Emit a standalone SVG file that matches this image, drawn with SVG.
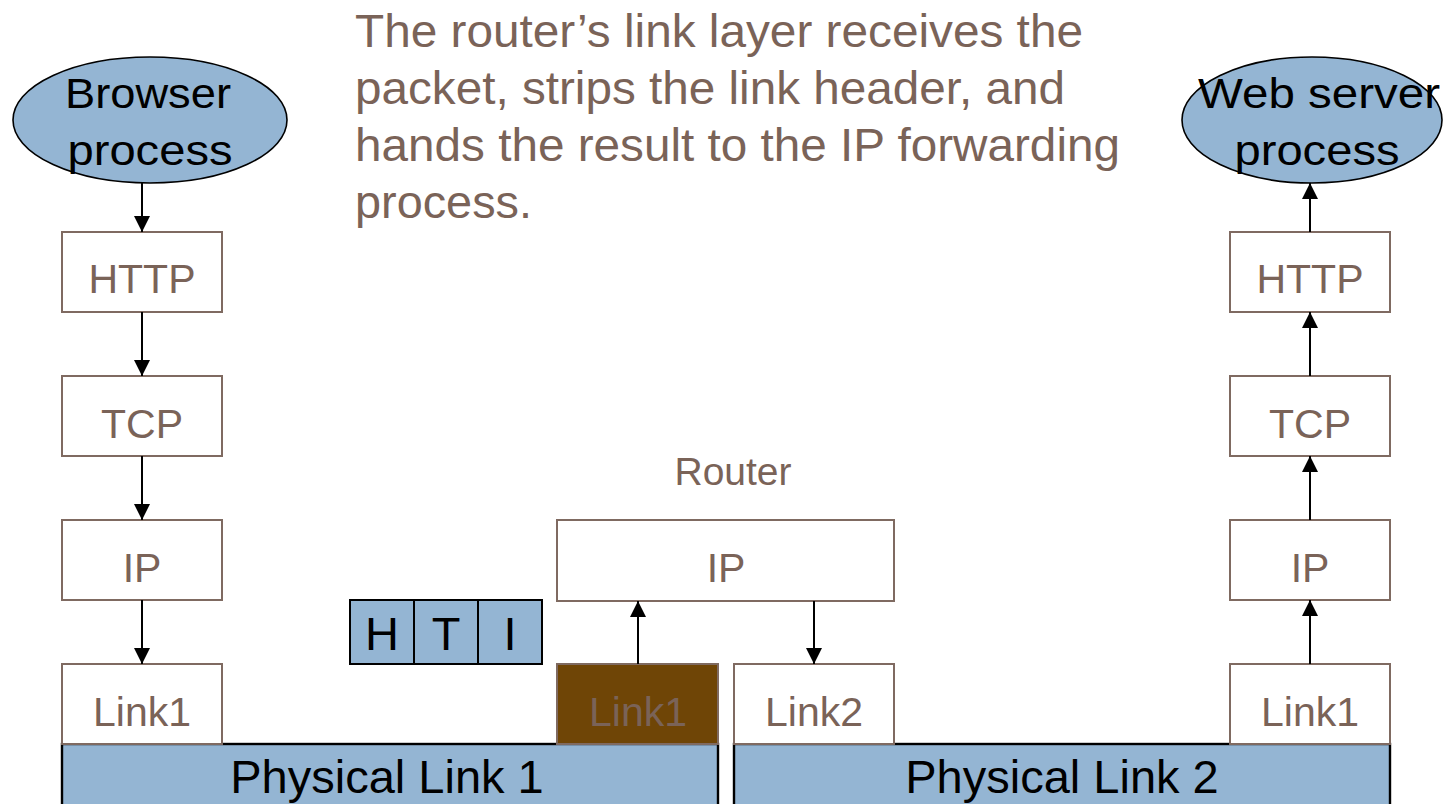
<svg xmlns="http://www.w3.org/2000/svg" width="1448" height="804" viewBox="0 0 1448 804">
<style>
.box{fill:#ffffff;stroke:#7f6a61;stroke-width:2}
.lbl{font-family:"Liberation Sans",Arial,sans-serif;font-size:41px;fill:#7a6358;text-anchor:middle}
.proc{fill:#94b5d3;stroke:#000;stroke-width:1.6}
.ptxt{font-family:"Liberation Sans",Arial,sans-serif;font-size:42px;fill:#000;text-anchor:middle}
.phys{fill:#94b5d3;stroke:#000;stroke-width:2.4}
.para{font-family:"Liberation Sans",Arial,sans-serif;font-size:46px;fill:#7a6358}
.cell{fill:#94b5d3;stroke:#000;stroke-width:2}
.conn{stroke:#000;stroke-width:2;fill:none;marker-end:url(#ah)}
</style>
<defs>
<marker id="ah" markerUnits="userSpaceOnUse" markerWidth="16" markerHeight="16" viewBox="0 0 16 16" refX="16" refY="8" orient="auto">
<path d="M0,0 L16,8 L0,16 Z" fill="#000"/>
</marker>
</defs>
<rect width="1448" height="804" fill="#fff"/>

<g id="caption">
<text class="para" x="355" y="47" textLength="728" lengthAdjust="spacingAndGlyphs">The router’s link layer receives the</text>
<text class="para" x="355" y="104" textLength="710" lengthAdjust="spacingAndGlyphs">packet, strips the link header, and</text>
<text class="para" x="355" y="161" textLength="765" lengthAdjust="spacingAndGlyphs">hands the result to the IP forwarding</text>
<text class="para" x="355" y="218" textLength="177" lengthAdjust="spacingAndGlyphs">process.</text>
</g>

<g id="phys1"><rect class="phys" x="62" y="744" width="656" height="64"/><text class="ptxt" x="387" y="793" style="font-size:47px">Physical Link 1</text></g>
<g id="phys2"><rect class="phys" x="734" y="744" width="656" height="64"/><text class="ptxt" x="1062" y="793" style="font-size:47px">Physical Link 2</text></g>

<g id="browser"><ellipse class="proc" cx="150" cy="120" rx="137" ry="63"/>
<text class="ptxt" x="148" y="108" textLength="166" lengthAdjust="spacingAndGlyphs">Browser</text>
<text class="ptxt" x="150" y="165" textLength="165" lengthAdjust="spacingAndGlyphs">process</text></g>

<g id="server"><ellipse class="proc" cx="1312" cy="120" rx="130" ry="63"/>
<text class="ptxt" x="1319" y="108" textLength="242" lengthAdjust="spacingAndGlyphs">Web server</text>
<text class="ptxt" x="1317" y="165" textLength="165" lengthAdjust="spacingAndGlyphs">process</text></g>

<g id="l-http"><rect class="box" x="62" y="232" width="160" height="80"/><text class="lbl" x="142" y="293">HTTP</text></g>
<g id="l-tcp"><rect class="box" x="62" y="376" width="160" height="80"/><text class="lbl" x="142" y="438">TCP</text></g>
<g id="l-ip"><rect class="box" x="62" y="520" width="160" height="80"/><text class="lbl" x="142" y="582">IP</text></g>
<g id="l-link1"><rect class="box" x="62" y="664" width="160" height="80"/><text class="lbl" x="142" y="726">Link1</text></g>

<g id="r-http"><rect class="box" x="1230" y="232" width="160" height="80"/><text class="lbl" x="1310" y="293">HTTP</text></g>
<g id="r-tcp"><rect class="box" x="1230" y="376" width="160" height="80"/><text class="lbl" x="1310" y="438">TCP</text></g>
<g id="r-ip"><rect class="box" x="1230" y="520" width="160" height="80"/><text class="lbl" x="1310" y="582">IP</text></g>
<g id="r-link1"><rect class="box" x="1230" y="664" width="160" height="80"/><text class="lbl" x="1310" y="726">Link1</text></g>

<g id="router-label"><text class="lbl" x="733" y="485" style="font-size:39px">Router</text></g>
<g id="router-ip"><rect class="box" x="557" y="520" width="337" height="81"/><text class="lbl" x="726" y="582">IP</text></g>
<g id="router-link1"><rect class="box" x="557" y="664" width="161" height="80" style="fill:#6f4506"/><text class="lbl" x="638" y="726">Link1</text></g>
<g id="router-link2"><rect class="box" x="734" y="664" width="160" height="80"/><text class="lbl" x="814" y="726">Link2</text></g>

<g id="packet">
<rect class="cell" x="350" y="600" width="64" height="64"/>
<rect class="cell" x="414" y="600" width="64" height="64"/>
<rect class="cell" x="478" y="600" width="64" height="64"/>
<text class="ptxt" x="382" y="650" style="font-size:47px">H</text>
<text class="ptxt" x="446" y="650" style="font-size:47px">T</text>
<text class="ptxt" x="510" y="650" style="font-size:47px">I</text>
</g>

<g id="connectors">
<line class="conn" x1="142" y1="183" x2="142" y2="232"/>
<line class="conn" x1="142" y1="312" x2="142" y2="376"/>
<line class="conn" x1="142" y1="456" x2="142" y2="520"/>
<line class="conn" x1="142" y1="600" x2="142" y2="664"/>
<line class="conn" x1="638" y1="664" x2="638" y2="601"/>
<line class="conn" x1="814" y1="601" x2="814" y2="664"/>
<line class="conn" x1="1310" y1="664" x2="1310" y2="600"/>
<line class="conn" x1="1310" y1="520" x2="1310" y2="456"/>
<line class="conn" x1="1310" y1="376" x2="1310" y2="312"/>
<line class="conn" x1="1310" y1="232" x2="1310" y2="183"/>
</g>
</svg>
